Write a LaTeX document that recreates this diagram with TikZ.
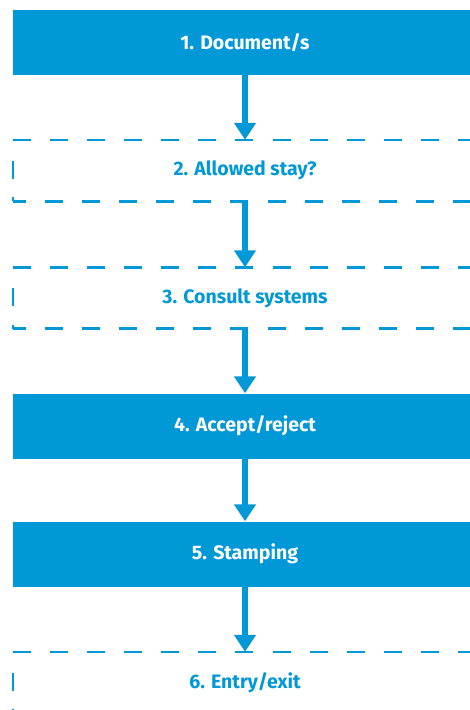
\documentclass[tikz,border=0pt]{standalone}
\usepackage{fontspec}
\setmainfont{Fira Sans}
\usetikzlibrary{arrows.meta}
\definecolor{flowblue}{HTML}{0098D6}
\tikzset{
  x=1pt, y=-1pt,
  steptext/.style={font=\fontsize{19.5}{22}\selectfont\bfseries},
  solidbox/.style={steptext, fill=flowblue, text=white, minimum width=464pt, minimum height=65pt,
    inner sep=0pt},
  openbox/.style={steptext, text=flowblue, minimum width=464pt, minimum height=61pt,
    inner sep=0pt},
  edgeline/.style={draw=flowblue, line width=2.6pt},
  topdash/.style={edgeline, dash pattern=on 18pt off 19.1pt},
  bottomdash/.style={edgeline, dash pattern=on 18pt off 19.1pt, dash phase=5pt},
  sidedash/.style={edgeline, dash pattern=on 4pt off 18.5pt on 18pt off 100pt},
  flow/.style={draw=flowblue, line width=6.5pt, -{Triangle[width=21pt,length=17pt]}}
}
\begin{document}
\begin{tikzpicture}
\useasboundingbox (0,0) rectangle (470,710);
\begin{scope}
\clip (0,0) rectangle (470,710);
% process steps
\node[solidbox] (s1) at (245,42.5) {1. Document/s};
\node[openbox]  (s2) at (245,170.5) {2. Allowed stay?};
\node[openbox]  (s3) at (245,298) {3. Consult systems};
\node[solidbox] (s4) at (245,426) {4. Accept/reject};
\node[solidbox] (s5) at (245,554) {5. Stamping};
\node[openbox]  (s6) at (245,682.5) {6. Entry/exit};

% dashed outlines of the open steps
\foreach \s in {s2,s3,s6} {
  \draw[topdash] (\s.north west) -- (\s.north east);
  \draw[bottomdash] (\s.south west) -- (\s.south east);
  \draw[sidedash] (\s.south west) -- (\s.north west);
}

% connectors
\draw[flow] (s1.south) -- (s2.north);
\draw[flow] (s2.south) -- (s3.north);
\draw[flow] (s3.south) -- (s4.north);
\draw[flow] (s4.south) -- (s5.north);
\draw[flow] (s5.south) -- (s6.north);
\end{scope}
\end{tikzpicture}
\end{document}
